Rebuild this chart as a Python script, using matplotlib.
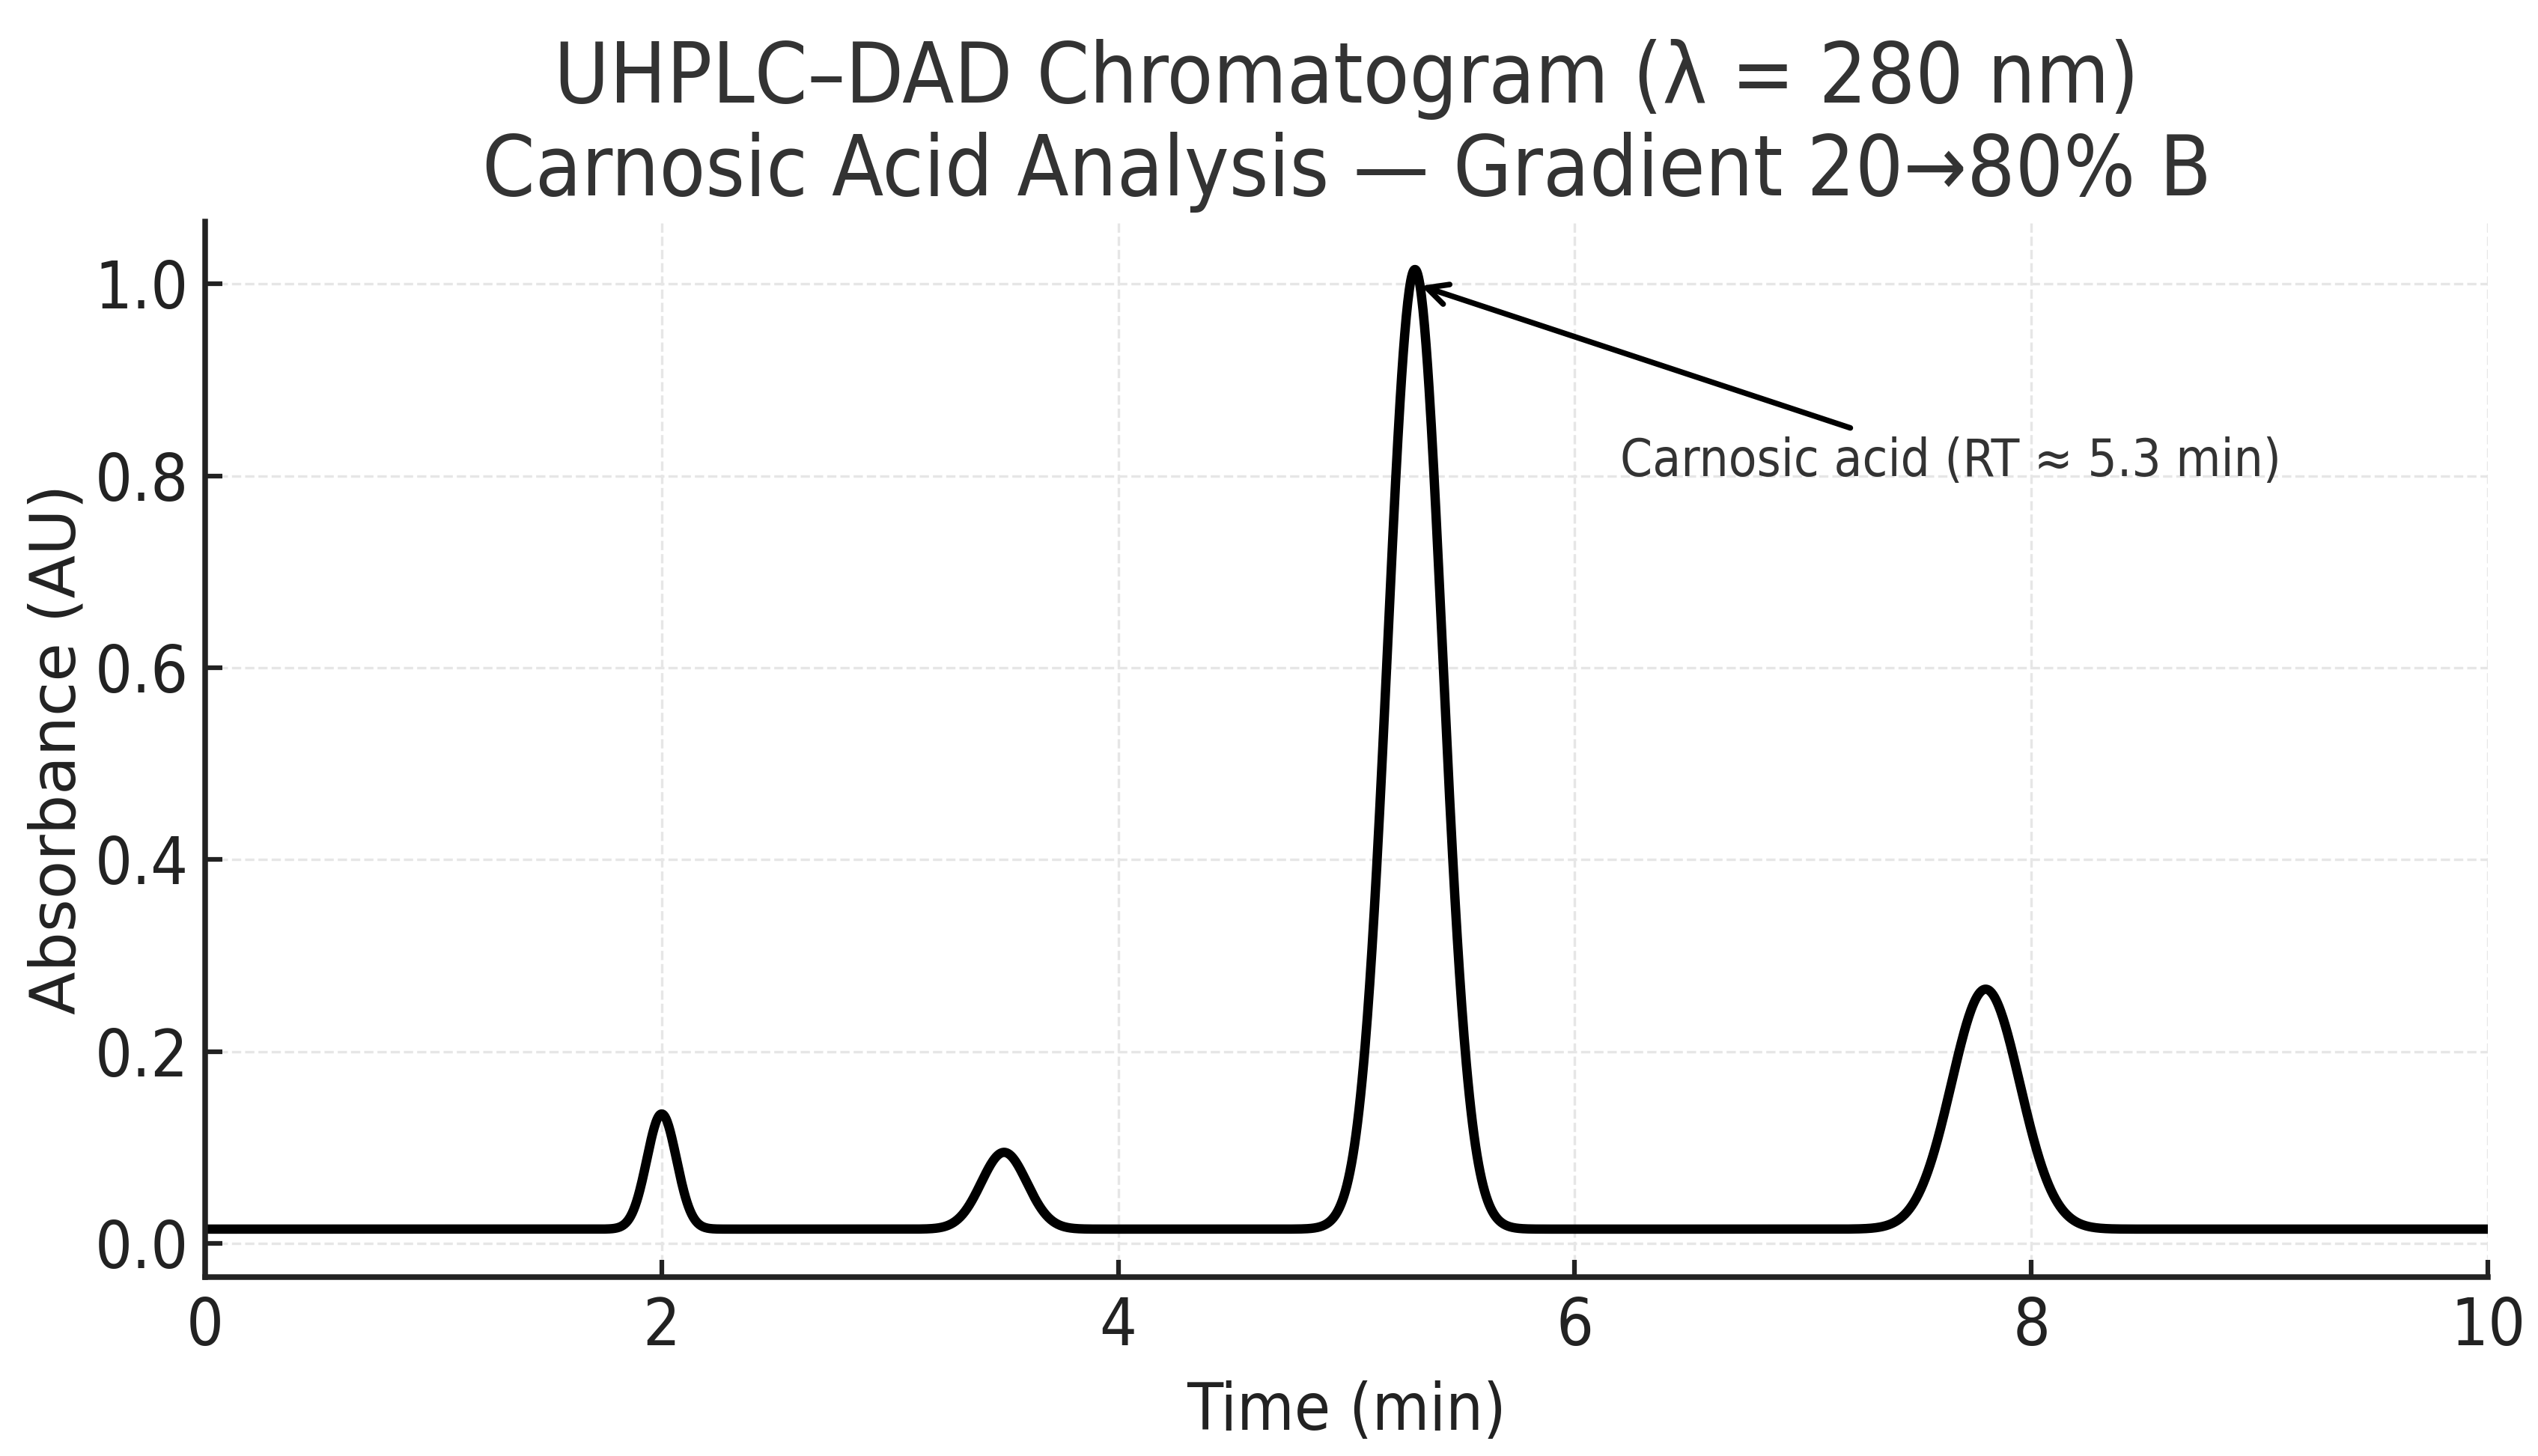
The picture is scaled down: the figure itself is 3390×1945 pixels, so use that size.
import numpy as np
import matplotlib
matplotlib.use("Agg")
import matplotlib.pyplot as plt

# peak table
peak_rt = [2.0, 3.5, 5.3, 7.8]          # retention time (min)
peak_height = [0.12, 0.08, 1.00, 0.25]  # absorbance above baseline (AU)
peak_sigma = [0.065, 0.10, 0.12, 0.15]  # peak width (min)
baseline = 0.015

x_ticks = [0, 2, 4, 6, 8, 10]
y_ticks = [0.0, 0.2, 0.4, 0.6, 0.8, 1.0]

title = "UHPLC\u2013DAD Chromatogram (\u03bb = 280 nm)\nCarnosic Acid Analysis \u2014 Gradient 20\u219280% B"
label = "Carnosic acid (RT \u2248 5.3 min)"

plt.rcParams['font.family'] = ['DejaVu Sans']
plt.rcParams['font.stretch'] = 'condensed'

# build the trace from the peak table
t = np.linspace(0, 10, 3000)
signal = np.full_like(t, baseline)
for rt, h, s in zip(peak_rt, peak_height, peak_sigma):
    signal += h * np.exp(-0.5 * ((t - rt) / s) ** 2)

W, H = 3390, 1945
fig = plt.figure(figsize=(W / 300, H / 300), dpi=300)
ax = fig.add_subplot(111)
fig.subplots_adjust(left=274 / W, right=3323 / W, bottom=1 - 1706 / H, top=1 - 296 / H)

ax.plot(t, signal, color='black', lw=3.0)
ax.set_xlim(0, 10)
ax.set_xticks(x_ticks)
ax.set_yticks(y_ticks)

ax.grid(True, linestyle='--', lw=0.8, color='#e6e6e6')
ax.set_axisbelow(True)

for side in ['top', 'right']:
    ax.spines[side].set_visible(False)
for side in ['left', 'bottom']:
    ax.spines[side].set_linewidth(1.8)
    ax.spines[side].set_color('#222222')

ax.tick_params(axis='both', direction='in', length=5.5, width=1.5, colors='#222222', labelsize=21)
ax.tick_params(axis='x', pad=6)
ax.tick_params(axis='y', pad=5.3)

ax.set_xlabel("Time (min)", fontsize=21, color='#222222')
ax.xaxis.set_label_coords(0.5, -0.0982)
ax.set_ylabel("Absorbance (AU)", fontsize=20.2, color='#222222', fontstretch='normal')
ax.yaxis.set_label_coords(-0.0512, 0.5)

ax.set_title(title, fontsize=27, color='#333333', pad=0, y=1.0082, va='bottom', linespacing=1.19)

ax.annotate(label, xy=(5.3, 1.0), xytext=(6.2, 0.8), fontsize=16.5, color='#333333',
            arrowprops=dict(arrowstyle='->', lw=1.8, color='black'))

fig.savefig("out.png", dpi=300)
